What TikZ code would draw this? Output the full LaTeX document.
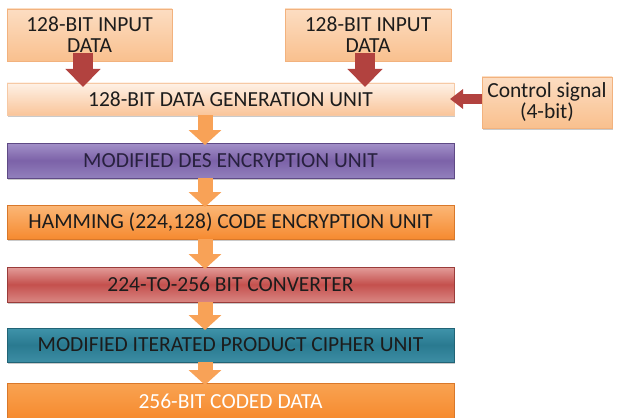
\documentclass[tikz,border=0pt]{standalone}
\usepackage{fontspec}
\setmainfont{Carlito}
\usetikzlibrary{arrows.meta,shadows,calc}

% palette
\definecolor{peachTop}{HTML}{FCDDC2}
\definecolor{peachBot}{HTML}{F9C08E}
\definecolor{peachLine}{HTML}{F2B27E}
\definecolor{genTop}{HTML}{FEF1E6}
\definecolor{genBot}{HTML}{FAC59A}
\definecolor{desTop}{HTML}{A391C9}
\definecolor{desMid}{HTML}{7C62A8}
\definecolor{desBot}{HTML}{9280BC}
\definecolor{desLine}{HTML}{5F4A85}
\definecolor{hamTop}{HTML}{FBB777}
\definecolor{hamBot}{HTML}{F68A30}
\definecolor{hamLine}{HTML}{D9782A}
\definecolor{convTop}{HTML}{E39D9A}
\definecolor{convMid}{HTML}{C4504D}
\definecolor{convBot}{HTML}{D98682}
\definecolor{convLine}{HTML}{9A3C3A}
\definecolor{ipcTop}{HTML}{3F93AA}
\definecolor{ipcMid}{HTML}{2A7A90}
\definecolor{ipcBot}{HTML}{3C8DA4}
\definecolor{ipcLine}{HTML}{216476}
\definecolor{codTop}{HTML}{F9A352}
\definecolor{codBot}{HTML}{F68A2E}
\definecolor{redArr}{HTML}{B2423F}
\definecolor{orArr}{HTML}{F8A257}
\definecolor{ink}{HTML}{1C1C1C}
\definecolor{desInk}{HTML}{28213F}

\tikzset{
  box/.style={rectangle, inner sep=0pt, outer sep=0pt, align=center,
    font=\fontsize{21.5}{21}\selectfont, text=ink, line width=0.5pt,
    drop shadow={shadow xshift=1.2pt, shadow yshift=-1.5pt, opacity=0.35, fill=black!60}},
  peach/.style={box, draw=peachLine, top color=peachTop, bottom color=peachBot},
  genbox/.style={box, draw=peachLine!70, top color=genTop, bottom color=genBot},
  desbox/.style={box, draw=desLine, top color=desTop, bottom color=desBot, middle color=desMid, text=desInk},
  hambox/.style={box, draw=hamLine, top color=hamTop, bottom color=hamBot},
  convbox/.style={box, draw=convLine, top color=convTop, bottom color=convBot, middle color=convMid},
  ipcbox/.style={box, draw=ipcLine, top color=ipcTop, bottom color=ipcBot, middle color=ipcMid},
  codbox/.style={box, draw=hamLine, top color=codTop, bottom color=codBot, text=white},
  redarrow/.style={draw=redArr, line width=20pt, -{Triangle[width=34pt,length=18pt]}},
  sidearrow/.style={draw=redArr, line width=9pt, -{Triangle[width=19pt,length=13pt]}},
  orarrow/.style={draw=orArr, line width=15pt, -{Triangle[width=32pt,length=15pt]}}
}

\begin{document}
\begin{tikzpicture}[x=1pt, y=-1pt]
  \useasboundingbox (0,0) rectangle (617,417);

  % input and control blocks
  \node[peach, anchor=north west, minimum width=165pt, minimum height=52pt] (in1) at (7,9) {128-BIT INPUT\\DATA};
  \node[peach, anchor=north west, minimum width=166pt, minimum height=52pt] (in2) at (285,9) {128-BIT INPUT\\DATA};
  \node[peach, anchor=north west, minimum width=130pt, minimum height=51pt] (ctrl) at (482,77) {Control signal\\(4-bit)};

  % processing chain
  \node[genbox, anchor=north west, minimum width=447pt, minimum height=32pt] (gen) at (7,83) {128-BIT DATA GENERATION UNIT};
  \node[desbox, anchor=north west, minimum width=447pt, minimum height=35pt] (des) at (7,143) {MODIFIED DES ENCRYPTION UNIT};
  \node[hambox, anchor=north west, minimum width=447pt, minimum height=34pt] (ham) at (7,205) {HAMMING (224,128) CODE ENCRYPTION UNIT};
  \node[convbox, anchor=north west, minimum width=447pt, minimum height=35pt] (conv) at (7,267) {224-TO-256 BIT CONVERTER};
  \node[ipcbox, anchor=north west, minimum width=447pt, minimum height=34pt] (ipc) at (7,328) {MODIFIED ITERATED PRODUCT CIPHER UNIT};
  \node[codbox, anchor=north west, minimum width=447pt, minimum height=36pt] (cod) at (7,383) {256-BIT CODED DATA};

  % column of the downward arrows
  \coordinate (ax) at (205,0);

  % inputs into the generation unit
  \draw[redarrow] ([xshift=-6.5pt,yshift=8pt]in1.south) -- ($([xshift=-6.5pt]in1.south |- gen.north)+(0,4)$);
  \draw[redarrow] ([xshift=-3pt,yshift=8pt]in2.south) -- ($([xshift=-3pt]in2.south |- gen.north)+(0,4)$);
  \draw[sidearrow] (ctrl.west |- gen.east) -- ([xshift=-4pt]gen.east);

  % data flow down the chain
  \draw[orarrow] (gen.south -| ax) -- ($(des.north -| ax)+(0,2)$);
  \draw[orarrow] (des.south -| ax) -- ($(ham.north -| ax)+(0,2)$);
  \draw[orarrow] (ham.south -| ax) -- ($(conv.north -| ax)+(0,2)$);
  \draw[orarrow] (conv.south -| ax) -- ($(ipc.north -| ax)+(0,2)$);
  \draw[orarrow] (ipc.south -| ax) -- ($(cod.north -| ax)+(0,2)$);
\end{tikzpicture}
\end{document}
